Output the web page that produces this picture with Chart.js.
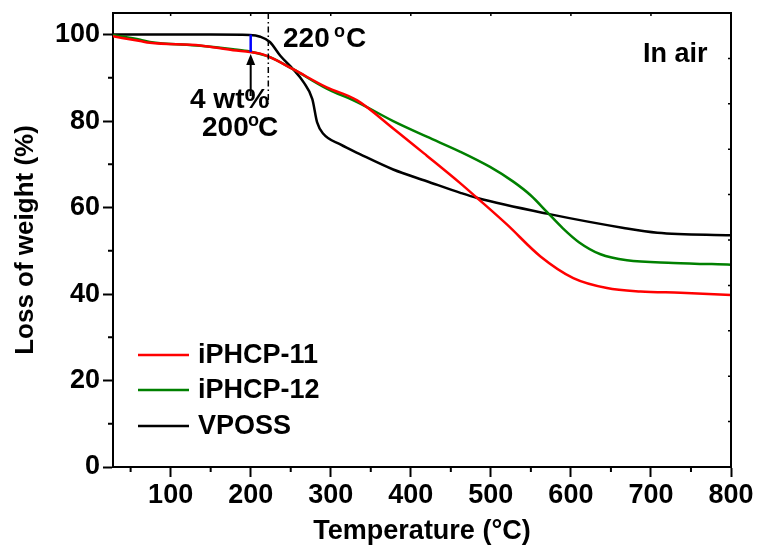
<!DOCTYPE html>
<html>
<head>
<meta charset="utf-8">
<script src="https://cdn.jsdelivr.net/npm/chart.js@4/dist/chart.umd.min.js"></script>
<style>
  html, body { margin: 0; padding: 0; background: #fff; }
  #wrap { width: 761px; height: 550px; }
</style>
</head>
<body>
<div id="wrap"><canvas id="c" width="761" height="550"></canvas></div>
<script>
// ---- data ----
const seriesNames = ['iPHCP-11', 'iPHCP-12', 'VPOSS'];

const tempIPHCP11 = [28, 62, 74, 137, 178, 199, 212, 224, 253, 295, 333, 378, 420, 462, 483, 520, 562, 603, 645, 687, 737, 800];
const lossIPHCP11 = [99.6, 98.5, 98.1, 97.5, 96.4, 96.0, 95.6, 94.8, 92.0, 87.8, 84.8, 78.3, 72.0, 65.6, 62.2, 56.1, 48.7, 43.7, 41.4, 40.6, 40.3, 39.8];

const tempIPHCP12 = [28, 62, 74, 137, 178, 199, 212, 224, 253, 295, 333, 378, 420, 462, 499, 528, 550, 570, 590, 610, 637, 670, 728, 800];
const lossIPHCP12 = [99.9, 98.8, 98.3, 97.4, 96.6, 96.1, 95.5, 94.8, 92.0, 87.5, 84.4, 80.0, 76.4, 72.9, 69.4, 66.0, 62.8, 59.0, 55.2, 52.0, 49.2, 47.8, 47.2, 46.8];

const tempVPOSS = [28, 100, 150, 199, 212, 224, 237, 253, 266, 277, 283, 291, 312, 337, 378, 420, 462, 483, 570, 666, 708, 800];
const lossVPOSS = [100, 100, 100, 99.9, 99.5, 98.3, 95.1, 92.0, 89.0, 85.1, 79.7, 77.0, 74.6, 72.3, 68.8, 66.1, 63.4, 62.2, 58.6, 55.3, 54.2, 53.6];

const xTickLabels = [100, 200, 300, 400, 500, 600, 700, 800];
const xMinorTicks = [50, 150, 250, 350, 450, 550, 650, 750];
const yTickLabels = [0, 20, 40, 60, 80, 100];
const yMinorTicks = [10, 30, 50, 70, 90];

// annotations (values in data units)
const onsetTemp = 222;          // dash-dot marker "220 °C"
const lossMarkTemp = 200;       // blue 4 wt% marker
const lossMarkFrom = 100, lossMarkTo = 96;

const FONT = "'Liberation Sans', Arial, sans-serif";

function pts(xs, ys) { return xs.map((x, i) => ({ x: x, y: ys[i] })); }

const decorPlugin = {
  id: 'decor',
  afterDraw(chart) {
    const ctx = chart.ctx;
    const a = chart.chartArea;
    const xs = chart.scales.x, ys = chart.scales.y;
    ctx.save();
    ctx.strokeStyle = '#000';
    ctx.lineWidth = 2;
    // top and right border
    ctx.beginPath();
    ctx.moveTo(a.left, a.top); ctx.lineTo(a.right, a.top); ctx.lineTo(a.right, a.bottom);
    ctx.stroke();
    // minor ticks outward
    ctx.beginPath();
    xMinorTicks.forEach(v => { const p = xs.getPixelForValue(v); ctx.moveTo(p, a.bottom); ctx.lineTo(p, a.bottom + 5); });
    yMinorTicks.forEach(v => { const p = ys.getPixelForValue(v); ctx.moveTo(a.left, p); ctx.lineTo(a.left - 5, p); });
    ctx.stroke();
    // inward ticks on top and right
    ctx.lineWidth = 1.5;
    ctx.beginPath();
    xTickLabels.forEach(v => { const p = xs.getPixelForValue(v); ctx.moveTo(p, a.top); ctx.lineTo(p, a.top + 3); });
    for (let i = 1; i < 10; i++) { const p = a.bottom - (a.bottom - a.top) * i / 10; ctx.moveTo(a.right, p); ctx.lineTo(a.right - 3, p); }
    ctx.stroke();

    // dash-dot onset line
    const ox = xs.getPixelForValue(onsetTemp);
    ctx.lineWidth = 1.5;
    ctx.setLineDash([6, 3, 1.5, 3]);
    ctx.beginPath(); ctx.moveTo(ox, a.top); ctx.lineTo(ox, ys.getPixelForValue(84)); ctx.stroke();
    ctx.setLineDash([]);

    // blue mark
    const bx = xs.getPixelForValue(lossMarkTemp);
    ctx.strokeStyle = '#0000ff'; ctx.lineWidth = 2.5;
    ctx.beginPath(); ctx.moveTo(bx, ys.getPixelForValue(lossMarkFrom)); ctx.lineTo(bx, ys.getPixelForValue(lossMarkTo)); ctx.stroke();

    // arrow
    const tipY = ys.getPixelForValue(95.5), tailY = ys.getPixelForValue(85.8);
    ctx.strokeStyle = '#000'; ctx.fillStyle = '#000'; ctx.lineWidth = 2;
    ctx.beginPath(); ctx.moveTo(bx, tailY); ctx.lineTo(bx, tipY + 8); ctx.stroke();
    ctx.beginPath(); ctx.moveTo(bx, tipY); ctx.lineTo(bx - 4.5, tipY + 11); ctx.lineTo(bx + 4.5, tipY + 11); ctx.closePath(); ctx.fill();

    // texts
    ctx.fillStyle = '#000';
    ctx.textBaseline = 'alphabetic';
    ctx.textAlign = 'left';
    const f = (s) => 'bold ' + s + 'px ' + FONT;
    // 220 °C
    ctx.font = f(28);
    ctx.fillText('220', 283, 47);
    ctx.font = f(18);
    ctx.fillText('o', 334, 37);
    ctx.font = f(28);
    ctx.fillText('C', 346, 47);
    // 4 wt%
    ctx.font = f(28);
    ctx.fillText('4 wt%', 190, 108);
    // 200°C
    ctx.fillText('200', 202, 136);
    ctx.font = f(18);
    ctx.fillText('o', 248, 126);
    ctx.font = f(28);
    ctx.fillText('C', 258, 136);
    // In air
    ctx.font = f(27);
    ctx.fillText('In air', 643, 62);

    // legend
    const legY = [355, 390, 426];
    chart.data.datasets.forEach((ds, i) => {
      ctx.strokeStyle = ds.borderColor; ctx.lineWidth = 2.5;
      ctx.beginPath(); ctx.moveTo(138, legY[i]); ctx.lineTo(189, legY[i]); ctx.stroke();
      ctx.fillStyle = '#000';
      ctx.font = f(27);
      ctx.textBaseline = 'middle';
      ctx.fillText(ds.label, 198, legY[i] + 1);
    });
    ctx.restore();
  }
};

const chart = new Chart(document.getElementById('c'), {
  type: 'line',
  data: {
    datasets: [
      { label: seriesNames[0], data: pts(tempIPHCP11, lossIPHCP11), borderColor: '#ff0000' },
      { label: seriesNames[1], data: pts(tempIPHCP12, lossIPHCP12), borderColor: '#008000' },
      { label: seriesNames[2], data: pts(tempVPOSS, lossVPOSS), borderColor: '#000000' }
    ].map(d => Object.assign(d, { borderWidth: 2.5, pointRadius: 0, fill: false, cubicInterpolationMode: 'monotone' }))
  },
  options: {
    responsive: false,
    animation: false,
    layout: { padding: { left: 0, right: 30, top: 13, bottom: 0 } },
    plugins: { legend: { display: false }, tooltip: { enabled: false } },
    scales: {
      x: {
        type: 'linear', min: 28, max: 800,
        afterBuildTicks: s => { s.ticks = xTickLabels.map(v => ({ value: v })); },
        afterFit: s => { s.height = 83; s.paddingLeft = 0; s.paddingRight = 0; },
        grid: { display: true, drawOnChartArea: false, drawTicks: true, tickLength: 10, tickWidth: 2, tickColor: '#000' },
        border: { display: true, color: '#000', width: 2 },
        ticks: { color: '#000', font: { family: FONT, size: 27, weight: 'bold' }, padding: 2, maxRotation: 0 },
        title: { display: true, text: 'Temperature (°C)', color: '#000', font: { family: FONT, size: 27, weight: 'bold' }, padding: { top: 0, bottom: 2 } }
      },
      y: {
        type: 'linear', min: 0, max: 105,
        afterBuildTicks: s => { s.ticks = yTickLabels.map(v => ({ value: v })); },
        afterFit: s => { s.width = 113; s.paddingTop = 0; s.paddingBottom = 0; },
        grid: { display: true, drawOnChartArea: false, drawTicks: true, tickLength: 10, tickWidth: 2, tickColor: '#000' },
        border: { display: true, color: '#000', width: 2 },
        ticks: { color: '#000', font: { family: FONT, size: 27, weight: 'bold' }, padding: 3 },
        title: { display: true, text: 'Loss of weight (%)', color: '#000', font: { family: FONT, size: 26, weight: 'bold' }, padding: { top: 10, bottom: 0 } }
      }
    }
  },
  plugins: [decorPlugin]
});
</script>
</body>
</html>
